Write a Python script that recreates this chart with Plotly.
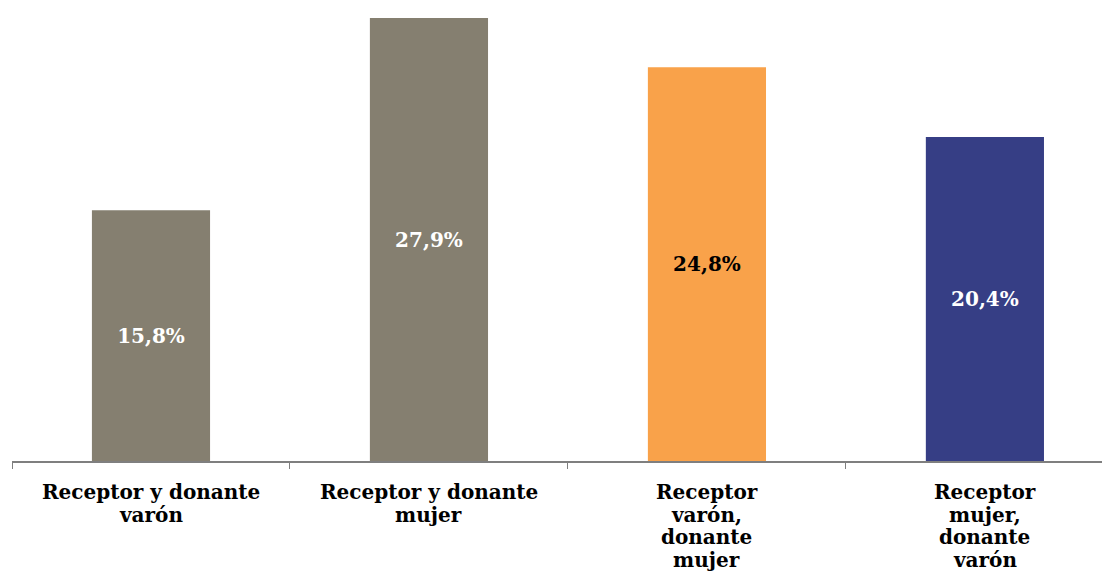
import plotly.graph_objects as go

categories = [
    "Receptor y donante<br>varón",
    "Receptor y donante<br>mujer",
    "Receptor<br>varón,<br>donante<br>mujer",
    "Receptor<br>mujer,<br>donante<br>varón",
]
values = [15.8, 27.9, 24.8, 20.4]
labels = ["15,8%", "27,9%", "24,8%", "20,4%"]
bar_colors = ["#857f70", "#857f70", "#f9a24a", "#363e85"]
text_colors = ["#ffffff", "#ffffff", "#000000", "#ffffff"]

xpos = list(range(len(categories)))

fig = go.Figure(
    go.Bar(
        x=xpos,
        y=values,
        text=labels,
        textposition="inside",
        insidetextanchor="middle",
        textangle=0,
        constraintext="none",
        textfont=dict(family="DejaVu Serif", size=20, color=text_colors, weight="bold"),
        marker=dict(color=bar_colors, line=dict(width=0)),
        width=0.425,
        hoverinfo="skip",
    )
)

# category labels, one text line per annotation to reproduce the tight line spacing
for i, cat in enumerate(categories):
    for k, line in enumerate(cat.split("<br>")):
        fig.add_annotation(
            x=i, y=0, xref="x", yref="y",
            text=line,
            showarrow=False,
            xanchor="center", yanchor="middle",
            yshift=-31 - k * 22.5,
            font=dict(family="DejaVu Serif", size=20, color="#000000", weight="bold"),
        )

fig.update_layout(
    width=1102,
    height=564,
    margin=dict(l=4, r=0, t=0, b=111),
    paper_bgcolor="white",
    plot_bgcolor="white",
    showlegend=False,
    xaxis=dict(
        range=[-0.5, 3.45],
        automargin=False,
        showline=True,
        linecolor="#7f7f7f",
        linewidth=2,
        ticks="outside",
        tickmode="array",
        tickvals=[-0.5, 0.5, 1.5, 2.5],
        ticktext=["", "", "", ""],
        ticklen=6,
        tickcolor="#7f7f7f",
        tickwidth=1,
        showgrid=False,
        zeroline=False,
    ),
    yaxis=dict(
        range=[0, 28.53],
        visible=False,
        showgrid=False,
        zeroline=False,
        automargin=False,
    ),
)

fig.write_html("out.html")
